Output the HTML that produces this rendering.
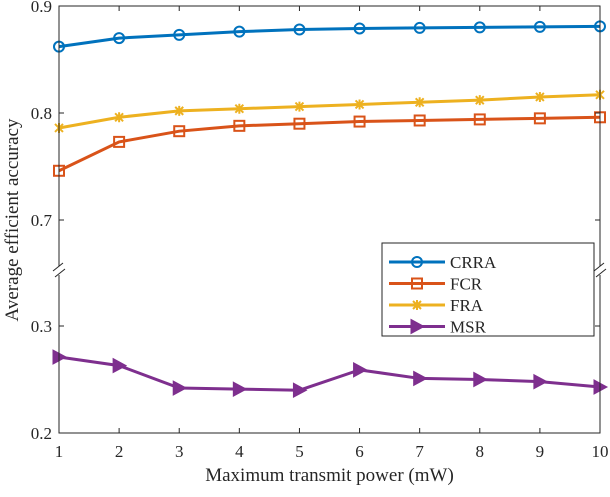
<!DOCTYPE html>
<html><head><meta charset="utf-8"><style>body{margin:0;background:#fff}svg text{font-family:"Liberation Serif",serif;fill:#262626}</style></head>
<body>
<svg id="chart" width="610" height="492" xmlns="http://www.w3.org/2000/svg">
<rect x="0" y="0" width="610" height="492" fill="#fff"/>
<g id="grid"></g>
<g id="series"></g>
<g id="axes"></g>
</svg>
<script>
const xValues=[1,2,3,4,5,6,7,8,9,10];
const crra=[0.862,0.870,0.873,0.876,0.878,0.879,0.8795,0.880,0.8805,0.881];
const fcr=[0.746,0.773,0.783,0.788,0.790,0.792,0.793,0.794,0.795,0.796];
const fra=[0.786,0.796,0.802,0.804,0.806,0.808,0.810,0.812,0.815,0.817];
const msr=[0.271,0.263,0.242,0.241,0.240,0.259,0.251,0.250,0.248,0.243];
const yTicks=[0.9,0.8,0.7,0.3,0.2];
const yTickLabels=["0.9","0.8","0.7","0.3","0.2"];
const NS="http://www.w3.org/2000/svg";
const L=59,R=600,T=6,B=433;
function xs(v){return L+(v-1)*(R-L)/9;}
function ys(v){return v>=0.5?T+(0.9-v)*1070:B-(v-0.2)*1070;}
function mk(tag,at,parent){const e=document.createElementNS(NS,tag);for(const k in at)e.setAttribute(k,at[k]);parent.appendChild(e);return e;}
const axes=document.getElementById('axes'),ser=document.getElementById('series');
const fr=mk('rect',{x:L,y:T,width:R-L,height:B-T,fill:'none',stroke:'#262626','stroke-width':1},axes);


[L,R].forEach((x,i)=>{
 const g=mk('g',{},axes);
 
 
 mk('rect',{x:x-8,y:266,width:16,height:9,fill:'#fff'},g);
 mk('line',{x1:x-6,y1:271,x2:x+4,y2:263,stroke:'#262626'},g);
 mk('line',{x1:x-4,y1:277,x2:x+6,y2:269,stroke:'#262626'},g);
});
yTicks.forEach((v,i)=>{
 const y=ys(v);
 mk('line',{x1:L,y1:y,x2:L+5,y2:y,stroke:'#262626'},axes);
 mk('line',{x1:R,y1:y,x2:R-5,y2:y,stroke:'#262626'},axes);
 const t=mk('text',{x:L-7,y:y+6,'text-anchor':'end','font-size':17},axes);
 t.textContent=yTickLabels[i];
 
 
});
xValues.forEach(v=>{
 const x=xs(v);
 mk('line',{x1:x,y1:B,x2:x,y2:B-5,stroke:'#262626'},axes);
 mk('line',{x1:x,y1:T,x2:x,y2:T+5,stroke:'#262626'},axes);
 const t=mk('text',{x:x,y:B+24,'text-anchor':'middle','font-size':17},axes);
 t.textContent=String(v);
 
 
});
const xt=mk('text',{x:(L+R)/2,y:481,'text-anchor':'middle','font-size':19},axes);
xt.textContent='Maximum transmit power (mW)';


const yt=mk('text',{x:0,y:0,'text-anchor':'middle','font-size':19,transform:'translate(18,220) rotate(-90)'},axes);
yt.textContent='Average efficient accuracy';


function marker(type,x,y,c,g){
 if(type==='o')mk('circle',{cx:x,cy:y,r:5,fill:'none',stroke:c,'stroke-width':2},g);
 else if(type==='s')mk('rect',{x:x-5,y:y-5,width:10,height:10,fill:'none',stroke:c,'stroke-width':2},g);
 else if(type==='x'){mk('path',{d:`M${x-4} ${y-4}L${x+4} ${y+4}M${x-4} ${y+4}L${x+4} ${y-4}M${x} ${y-5}L${x} ${y+5}`,stroke:c,'stroke-width':2},g);}
 else mk('path',{d:`M${x-6} ${y-7}L${x+7} ${y}L${x-6} ${y+7}Z`,fill:c,stroke:c},g);
}
const series=[['crra',crra,'#0072BD','o','CRRA'],['fcr',fcr,'#D95319','s','FCR'],['fra',fra,'#EDB120','x','FRA'],['msr',msr,'#7E2F8E','t','MSR']];
series.forEach(([id,d,c,m])=>{
 const g=mk('g',{},ser);
 
 
 mk('polyline',{points:d.map((v,i)=>xs(xValues[i])+','+ys(v)).join(' '),fill:'none',stroke:c,'stroke-width':3},g);
 d.forEach((v,i)=>marker(m,xs(xValues[i]),ys(v),c,g));
});
const lg=mk('g',{},axes);


mk('rect',{x:382,y:243,width:212,height:93,fill:'#fff',stroke:'#262626'},lg);
series.forEach(([id,d,c,m,name],i)=>{
 const y=262+i*21.5;
 const e=mk('g',{},lg);
 
 
 mk('line',{x1:389,y1:y,x2:445,y2:y,stroke:c,'stroke-width':3},e);
 marker(m,417,y,c,e);
 const t=mk('text',{x:450,y:y+6,'font-size':17},e);
 t.textContent=name;
});
</script>
</body></html>
